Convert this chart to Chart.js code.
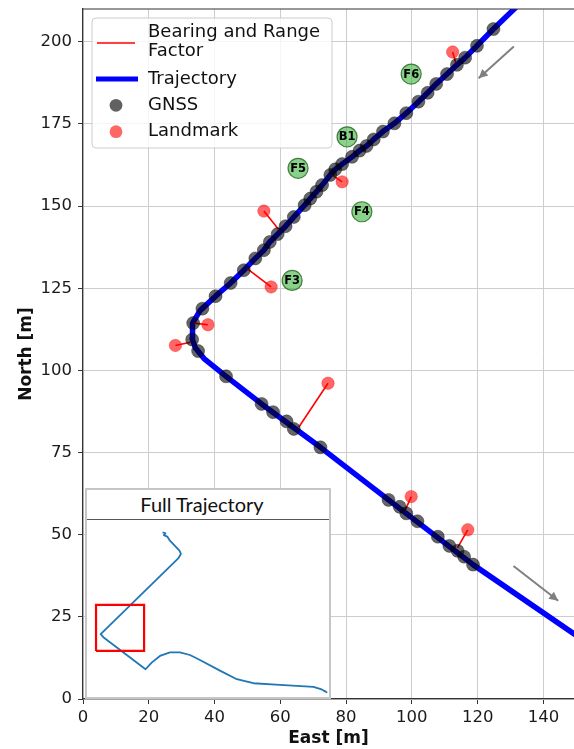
<!DOCTYPE html>
<html>
<head>
<meta charset="utf-8">
<title>Trajectory with landmarks</title>
<script src="https://cdn.jsdelivr.net/npm/chart.js@4/dist/chart.umd.min.js"></script>
<style>
  html, body { margin: 0; padding: 0; background: #ffffff; }
  #wrap { position: relative; width: 574px; height: 749px; overflow: hidden; }
  #main { position: absolute; left: 0; top: 0; }
  #inset {
    position: absolute; left: 85px; top: 488px; width: 242px; height: 207px;
    border: 2px solid #c6c6c6; background: #ffffff;
  }
  #insetTitle {
    position: absolute; left: 0; top: 0; width: 230px; padding-right: 12px; height: 29px; line-height: 29px;
    text-align: center; font-family: Lato, "Open Sans", sans-serif; font-size: 20px; color: #111;
    border-bottom: 1px solid #555;
  }
  #insetCanvas { position: absolute; left: 0; top: 30px; }
</style>
</head>
<body>
<div id="wrap">
  <canvas id="main" width="574" height="749"></canvas>
  <div id="inset">
    <div id="insetTitle">Full Trajectory</div>
    <canvas id="insetCanvas" width="242" height="177"></canvas>
  </div>
</div>
<script>
// ---- estimated trajectory (East / North, metres) ----
const trajEast  = [156.0, 118.6, 92.9, 72.2, 54.3, 43.5, 36.8, 34.2, 33.2, 33.3, 35.6, 40.3, 44.9, 48.9, 52.4, 55.0,
                   56.8, 59.2, 61.6, 64.1, 67.4, 69.1, 71.0, 72.7, 75.2, 76.7, 78.8, 81.8, 84.1, 86.2, 88.4, 91.2,
                   94.7, 98.3, 102.0, 104.8, 107.4, 110.7, 113.7, 116.2, 119.8, 124.8, 134.0];
const trajNorth = [15.2, 40.9, 60.6, 76.6, 89.8, 98.2, 103.6, 106.8, 109.6, 114.4, 118.2, 122.6, 126.6, 130.5, 134.1, 136.6,
                   139.1, 141.5, 143.9, 146.7, 150.3, 152.3, 154.4, 156.4, 159.5, 161.2, 162.8, 165.0, 166.9, 168.3, 170.3, 172.7,
                   175.2, 178.3, 181.8, 184.5, 187.2, 190.2, 193.0, 195.2, 198.8, 203.9, 212.8];

// ---- GNSS fixes ----
const gnssEast  = [118.6, 115.9, 113.9, 111.4, 107.9, 101.7, 98.3, 96.3, 92.9, 72.2, 64.1, 61.9, 57.8, 54.3, 43.5,
                   35.0, 33.2, 33.5, 36.3, 40.3, 44.9, 48.9, 52.4, 55.0, 56.8, 59.2, 61.6, 64.1, 67.4, 69.1, 71.0,
                   72.7, 75.2, 76.7, 78.8, 81.8, 84.1, 86.2, 88.4, 91.2, 94.7, 98.3, 102.0, 104.8, 107.4, 110.7,
                   113.7, 116.2, 119.8, 124.8];
const gnssNorth = [40.9, 43.3, 45.1, 46.6, 49.4, 54.1, 56.5, 58.5, 60.6, 76.6, 82.2, 84.5, 87.3, 89.8, 98.2,
                   105.9, 109.4, 114.4, 118.8, 122.6, 126.6, 130.5, 134.1, 136.6, 139.1, 141.5, 143.9, 146.7, 150.3, 152.3, 154.4,
                   156.4, 159.5, 161.2, 162.8, 165.0, 166.9, 168.3, 170.3, 172.7, 175.2, 178.3, 181.8, 184.5, 187.2, 190.2,
                   193.0, 195.2, 198.8, 203.9];

// ---- landmark observations and the pose each bearing/range factor ties to ----
const lmEast      = [112.4, 78.8, 55.0, 57.2, 38.0, 28.1, 74.5, 99.8, 117.0];
const lmNorth     = [196.9, 157.4, 148.5, 125.4, 113.9, 107.6, 96.1, 61.6, 51.5];
const anchorEast  = [113.4, 75.7, 59.5, 49.9, 33.7, 32.7, 65.6, 98.0, 113.9];
const anchorNorth = [193.5, 159.5, 142.9, 131.0, 114.4, 108.6, 82.7, 57.5, 46.1];

// ---- mapped features ----
const featLabels = ['F6', 'B1', 'F5', 'F4', 'F3'];
const featEast   = [99.8, 80.3, 65.4, 84.8, 63.6];
const featNorth  = [190.2, 171.1, 161.5, 148.3, 127.4];

// ---- direction-of-travel arrows ----
const arrowFromEast  = [131.0, 130.9];
const arrowFromNorth = [198.6, 40.5];
const arrowToEast    = [120.3, 144.5];
const arrowToNorth   = [188.9, 29.9];

// ---- axis ticks ----
const eastTicks  = [0, 20, 40, 60, 80, 100, 120, 140];
const northTicks = [0, 25, 50, 75, 100, 125, 150, 175, 200];

// ---- overview (full run) in overview units ----
const fullEast  = [31.4, 32.6, 31.9, 33.3, 34.4, 38.3, 38.9, 37.8, 6.0, 7.1, 24.4, 26.9, 30.3, 34.4, 38.5, 42.6,
                   46.7, 54.9, 61.8, 68.6, 79.5, 93.2, 96.6, 98.6, 97.6, 98.4];
const fullNorth = [69.4, 69.0, 68.2, 67.6, 65.9, 61.7, 60.3, 58.4, 26.5, 25.2, 11.7, 14.5, 17.3, 18.8, 18.8, 17.7,
                   15.6, 11.1, 7.5, 5.8, 5.1, 4.3, 3.2, 2.0, 2.6, 2.3];
const zoomBoxEast  = [4.1, 23.8];
const zoomBoxNorth = [19.4, 38.8];

const legendNames = [['Bearing and Range', 'Factor'], ['Trajectory'], ['GNSS'], ['Landmark']];

const pts = (xs, ys) => xs.map((x, i) => ({ x: x, y: ys[i] }));

Chart.defaults.font.family = '"DejaVu Sans", sans-serif';
Chart.defaults.color = '#1a1a1a';

const bearingSets = lmEast.map((_, i) => ({
  label: legendNames[0].join(' '),
  data: [{ x: lmEast[i], y: lmNorth[i] }, { x: anchorEast[i], y: anchorNorth[i] }],
  showLine: true, borderColor: '#ff0000', borderWidth: 1.6, pointRadius: 0, order: 3
}));

const arrowSets = arrowFromEast.map((_, i) => ({
  label: 'direction',
  data: [{ x: arrowFromEast[i], y: arrowFromNorth[i] }, { x: arrowToEast[i], y: arrowToNorth[i] }],
  showLine: true, borderColor: '#808080', borderWidth: 2, pointRadius: 0, order: 5
}));

// keep the plot area exactly where the layout puts it (no extra room for edge labels)
const noEdgePadding = s => { s.paddingTop = 0; s.paddingBottom = 0; s.paddingLeft = 0; s.paddingRight = 0; };

const decor = {
  id: 'decor',
  afterDatasetsDraw(chart) {
    const ctx = chart.ctx, xs = chart.scales.x, ys = chart.scales.y;
    // arrowheads
    ctx.save();
    ctx.fillStyle = '#808080';
    for (let i = 0; i < arrowToEast.length; i++) {
      const x1 = xs.getPixelForValue(arrowFromEast[i]), y1 = ys.getPixelForValue(arrowFromNorth[i]);
      const x2 = xs.getPixelForValue(arrowToEast[i]),   y2 = ys.getPixelForValue(arrowToNorth[i]);
      const a = Math.atan2(y2 - y1, x2 - x1), L = 9, W = 4.5;
      ctx.beginPath();
      ctx.moveTo(x2, y2);
      ctx.lineTo(x2 - L * Math.cos(a) + W * Math.sin(a), y2 - L * Math.sin(a) - W * Math.cos(a));
      ctx.lineTo(x2 - L * Math.cos(a) - W * Math.sin(a), y2 - L * Math.sin(a) + W * Math.cos(a));
      ctx.closePath();
      ctx.fill();
    }
    // feature names
    ctx.fillStyle = '#000';
    ctx.font = 'bold 11.5px "DejaVu Sans", sans-serif';
    ctx.textAlign = 'center';
    ctx.textBaseline = 'middle';
    featLabels.forEach((t, i) => {
      ctx.fillText(t, xs.getPixelForValue(featEast[i]), ys.getPixelForValue(featNorth[i]) + 0.5);
    });
    ctx.restore();
  },
  afterDraw(chart) {
    const ctx = chart.ctx, ca = chart.chartArea;
    ctx.save();
    // top frame line
    ctx.strokeStyle = '#333';
    ctx.lineWidth = 1.2;
    ctx.beginPath();
    ctx.moveTo(ca.left, ca.top);
    ctx.lineTo(ca.right, ca.top);
    ctx.stroke();

    // legend
    const bx = 92, by = 18, bw = 240, bh = 130;
    ctx.beginPath();
    ctx.roundRect(bx, by, bw, bh, 4);
    ctx.fillStyle = 'rgba(255,255,255,0.8)';
    ctx.fill();
    ctx.strokeStyle = '#cccccc';
    ctx.lineWidth = 1;
    ctx.stroke();

    ctx.lineCap = 'butt';
    ctx.strokeStyle = '#ff0000';
    ctx.lineWidth = 1.6;
    ctx.beginPath(); ctx.moveTo(97, 43); ctx.lineTo(135, 43); ctx.stroke();

    ctx.strokeStyle = '#0000ff';
    ctx.lineWidth = 5;
    ctx.beginPath(); ctx.moveTo(96, 79); ctx.lineTo(138, 79); ctx.stroke();

    ctx.fillStyle = 'rgba(0,0,0,0.62)';
    ctx.beginPath(); ctx.arc(116, 105.3, 6.4, 0, Math.PI * 2); ctx.fill();
    ctx.fillStyle = 'rgba(255,0,0,0.6)';
    ctx.beginPath(); ctx.arc(116, 131.7, 6.4, 0, Math.PI * 2); ctx.fill();

    ctx.fillStyle = '#111';
    ctx.font = '18px "DejaVu Sans", sans-serif';
    ctx.textAlign = 'left';
    ctx.textBaseline = 'middle';
    ctx.fillText(legendNames[0][0], 148, 32.3);
    ctx.fillText(legendNames[0][1], 148, 51.7);
    ctx.fillText(legendNames[1][0], 148, 79);
    ctx.fillText(legendNames[2][0], 148, 105.3);
    ctx.fillText(legendNames[3][0], 148, 131.7);
    ctx.restore();
  }
};

new Chart(document.getElementById('main'), {
  type: 'scatter',
  data: {
    datasets: [
      {
        label: 'features', data: pts(featEast, featNorth), pointRadius: 10, pointHoverRadius: 10,
        backgroundColor: 'rgba(60,180,60,0.6)', borderColor: 'rgba(40,110,40,0.85)', borderWidth: 1.2, order: 0
      },
      {
        label: legendNames[3][0], data: pts(lmEast, lmNorth), pointRadius: 6.2,
        backgroundColor: 'rgba(255,0,0,0.6)', borderColor: 'rgba(255,0,0,0.35)', borderWidth: 1, order: 1
      },
      {
        label: legendNames[2][0], data: pts(gnssEast, gnssNorth), pointRadius: 6.5,
        backgroundColor: 'rgba(0,0,0,0.6)', borderColor: 'rgba(0,0,0,0.35)', borderWidth: 1, order: 2
      },
      ...bearingSets,
      {
        label: legendNames[1][0], data: pts(trajEast, trajNorth), showLine: true, pointRadius: 0,
        borderColor: '#0000ff', borderWidth: 5.5, borderJoinStyle: 'round', order: 4
      },
      ...arrowSets
    ]
  },
  options: {
    responsive: false,
    animation: false,
    devicePixelRatio: 1,
    layout: { autoPadding: false, padding: { top: 9, right: 0, bottom: 0, left: 0 } },
    plugins: { legend: { display: false }, tooltip: { enabled: false } },
    scales: {
      x: {
        type: 'linear', min: 0, max: 149.3,
        afterFit: s => { s.height = 50; noEdgePadding(s); },
        afterBuildTicks: s => { s.ticks = eastTicks.map(v => ({ value: v })); },
        ticks: { font: { size: 16.5 }, color: '#1a1a1a', padding: 4, includeBounds: false, maxRotation: 0 },
        grid: { color: '#cdcdcd', lineWidth: 1, tickLength: 5, tickColor: '#333', tickWidth: 1 },
        border: { color: '#333', width: 1.2 },
        title: { display: true, text: 'East [m]', color: '#111',
                 font: { size: 17, weight: 'bold' }, padding: { top: 0, bottom: 0 } }
      },
      y: {
        type: 'linear', min: 0, max: 210,
        afterFit: s => { s.width = 83; noEdgePadding(s); },
        afterBuildTicks: s => { s.ticks = northTicks.map(v => ({ value: v })); },
        ticks: { font: { size: 16.5 }, color: '#1a1a1a', padding: 6, includeBounds: false },
        grid: { color: '#cdcdcd', lineWidth: 1, tickLength: 5, tickColor: '#333', tickWidth: 1 },
        border: { color: '#333', width: 1.2 },
        title: { display: true, text: 'North [m]', color: '#111',
                 font: { size: 17, weight: 'bold' }, padding: { top: 16, bottom: 0 } }
      }
    }
  },
  plugins: [decor]
});

// overview of the whole run with the zoomed window marked
const bx0 = zoomBoxEast[0], bx1 = zoomBoxEast[1], by0 = zoomBoxNorth[0], by1 = zoomBoxNorth[1];
new Chart(document.getElementById('insetCanvas'), {
  type: 'scatter',
  data: {
    datasets: [
      {
        label: 'zoom window',
        data: [{ x: bx0, y: by0 }, { x: bx1, y: by0 }, { x: bx1, y: by1 }, { x: bx0, y: by1 }, { x: bx0, y: by0 }],
        showLine: true, borderColor: '#ff0000', borderWidth: 2.2, pointRadius: 0, order: 0
      },
      {
        label: 'full trajectory', data: pts(fullEast, fullNorth), showLine: true, pointRadius: 0,
        borderColor: '#1f77b4', borderWidth: 1.8, borderJoinStyle: 'round', order: 1
      }
    ]
  },
  options: {
    responsive: false, animation: false, devicePixelRatio: 1,
    layout: { autoPadding: false, padding: 0 },
    plugins: { legend: { display: false }, tooltip: { enabled: false } },
    scales: {
      x: { type: 'linear', min: 0.4, max: 99.6, display: false },
      y: { type: 'linear', min: 0, max: 74.6, display: false }
    }
  }
});
</script>
</body>
</html>
